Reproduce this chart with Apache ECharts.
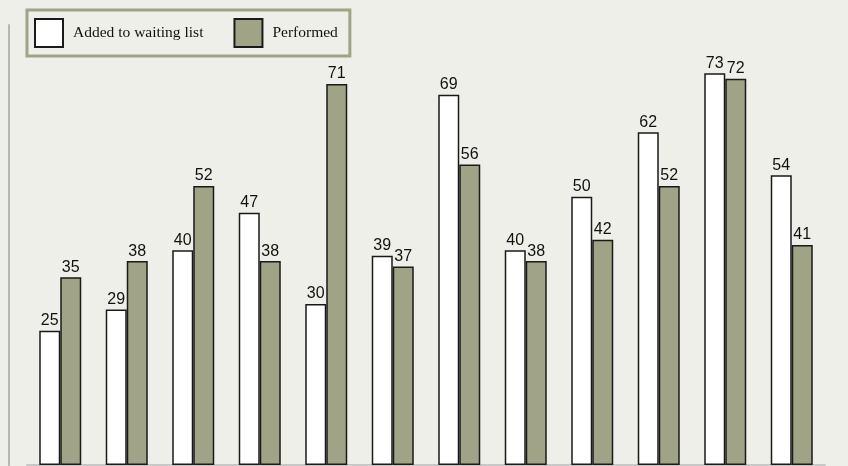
<!DOCTYPE html>
<html>
<head>
<meta charset="utf-8">
<script src="https://cdn.jsdelivr.net/npm/echarts@6/dist/echarts.min.js"></script>
<style>
html,body{margin:0;padding:0;background:#efefe9;}
#chart{width:848px;height:466px;}
</style>
</head>
<body>
<div id="chart"></div>
<script>
var categories = ['Jan','Feb','Mar','Apr','May','Jun','Jul','Aug','Sep','Oct','Nov','Dec'];
var addedValues = [25, 29, 40, 47, 30, 39, 69, 40, 50, 62, 73, 54];
var performedValues = [35, 38, 52, 38, 71, 37, 56, 38, 42, 52, 72, 41];
var seriesNames = ['Added to waiting list', 'Performed'];

var chart = echarts.init(document.getElementById('chart'), null, {renderer: 'canvas'});
var labelStyle = {
  show: true, position: 'top', distance: 2,
  fontFamily: 'Liberation Sans, Arial, sans-serif', fontSize: 16, color: '#111'
};
chart.setOption({
  backgroundColor: '#efefe9',
  animation: false,
  legend: {
    left: 27, top: 10,
    padding: [8, 12, 8, 7],
    itemGap: 30,
    itemWidth: 28, itemHeight: 28,
    icon: 'rect',
    borderColor: '#a0a386', borderWidth: 3,
    backgroundColor: '#efefe9',
    textStyle: {fontFamily: 'Liberation Serif, Times New Roman, serif', fontSize: 15.5, color: '#111', padding: [0, 0, 0, 5]},
    data: seriesNames
  },
  grid: {left: 27, right: 23, top: 25, bottom: 1},
  xAxis: {
    type: 'category', data: categories,
    axisLine: {show: true, lineStyle: {color: '#c8c8c8', width: 2}},
    axisTick: {show: false}, axisLabel: {show: false}
  },
  yAxis: {
    type: 'value', min: 0, max: 82,
    offset: 18,
    axisLine: {show: true, lineStyle: {color: '#b5b5b5', width: 2}},
    axisTick: {show: false}, axisLabel: {show: false}, splitLine: {show: false}
  },
  series: [
    {
      name: seriesNames[0], type: 'bar', data: addedValues,
      barWidth: 21, barGap: '0%',
      itemStyle: {color: '#ffffff', borderColor: '#1a1a1a', borderWidth: 1.5},
      label: labelStyle
    },
    {
      name: seriesNames[1], type: 'bar', data: performedValues,
      barWidth: 21, barGap: '0%',
      itemStyle: {color: '#a0a386', borderColor: '#1a1a1a', borderWidth: 1.5},
      label: labelStyle
    }
  ]
});
</script>
</body>
</html>
